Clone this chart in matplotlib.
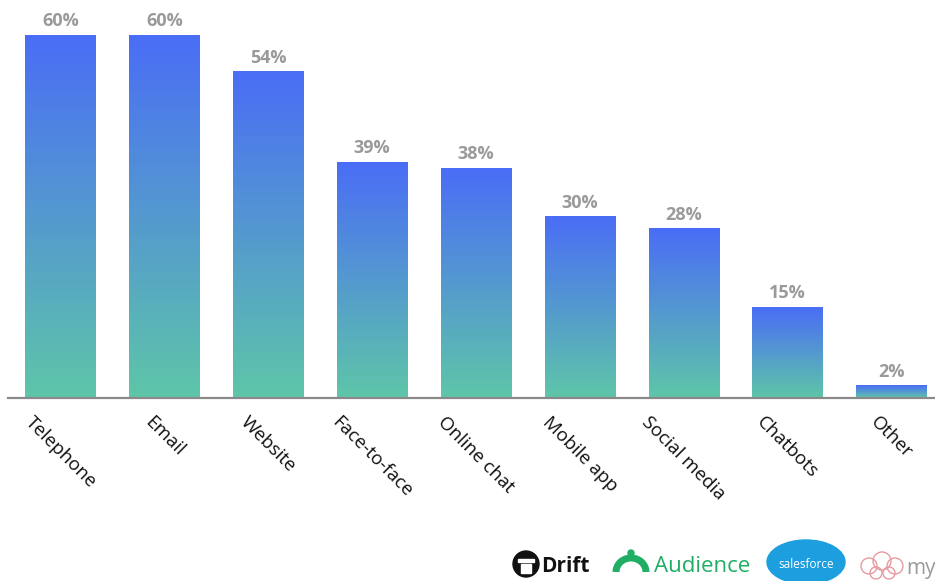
import numpy as np
import matplotlib
matplotlib.use("Agg")
import matplotlib.pyplot as plt
from matplotlib.colors import LinearSegmentedColormap
from matplotlib.patches import Ellipse, Arc, Rectangle

categories = ["Telephone", "Email", "Website", "Face-to-face", "Online chat",
              "Mobile app", "Social media", "Chatbots", "Other"]
values = [60, 60, 54, 39, 38, 30, 28, 15, 2]
value_labels = ["60%", "60%", "54%", "39%", "38%", "30%", "28%", "15%", "2%"]

TOP_BLUE = "#4a6df6"
BOTTOM_GREEN = "#5ec6a8"
grad_cmap = LinearSegmentedColormap.from_list("bar_grad", [BOTTOM_GREEN, TOP_BLUE])

W, H = 935, 581
fig = plt.figure(figsize=(W / 100, H / 100), dpi=100)
ax = fig.add_axes([8 / W, 1 - 398 / H, 927 / W, 398 / H])


def fx(px):
    return px / W


def fy(py):
    return 1 - py / H


def round_mark(cx, cy, r, **kw):
    # circle given in pixels, kept round in figure coordinates
    fig.patches.append(Ellipse((fx(cx), fy(cy)), 2 * r / W, 2 * r / H,
                               transform=fig.transFigure, **kw))


x = np.arange(len(categories))
bars = ax.bar(x, values, width=0.675, color="none", edgecolor="none", zorder=2)

# vertical gradient inside each bar, blue at top fading to green at the base
grad = np.linspace(0, 1, 256).reshape(-1, 1)
for b in bars:
    x0, w, h = b.get_x(), b.get_width(), b.get_height()
    ax.imshow(grad, cmap=grad_cmap, origin="lower", aspect="auto",
              extent=(x0, x0 + w, 0, h), zorder=2, interpolation="bilinear")

for b, lab in zip(bars, value_labels):
    ax.annotate(lab, (b.get_x() + b.get_width() / 2, b.get_height()),
                xytext=(0, 3.5), textcoords="offset points",
                ha="center", va="bottom", fontsize=13, fontweight="bold",
                color="#9a9a9a", family="Open Sans")

ax.set_xlim(-0.506, 8.42)
ax.set_ylim(0, 65.8)

for side in ("top", "right", "left"):
    ax.spines[side].set_visible(False)
ax.spines["bottom"].set_color("#8a8a8a")
ax.spines["bottom"].set_linewidth(1.6)
ax.set_yticks([])
ax.set_xticks(x)
ax.set_xticklabels(categories, rotation=-45, ha="center", va="top",
                   fontsize=13.5, family="Open Sans", color="#111111")
ax.tick_params(axis="x", length=0, pad=11)

# partner logos along the bottom edge
# Drift: dark roundel with a white house mark
round_mark(526, 564, 13, color="#111111")
fig.patches.append(Rectangle((fx(521), fy(573)), 10 / W, 9 / H,
                             transform=fig.transFigure, color="white"))
fig.patches.append(Rectangle((fx(518), fy(562)), 16 / W, 3 / H,
                             transform=fig.transFigure, color="white"))
fig.text(fx(541), fy(577), "Drift", fontsize=15, fontweight="bold",
         color="#111111", family="Open Sans", va="bottom")
# Audience: green arch mark with word
fig.patches.append(Arc((fx(631), fy(572)), 30 / W, 28 / H, theta1=0, theta2=180,
                       transform=fig.transFigure, color="#1fae63", linewidth=5))
round_mark(631, 553, 3, color="#1fae63")
fig.text(fx(654), fy(577), "Audience", fontsize=16,
         color="#1fae63", family="Open Sans", va="bottom")
# Salesforce cloud
fig.patches.append(Ellipse((fx(806), fy(562)), 78 / W, 44 / H,
                           transform=fig.transFigure, color="#1d9ede"))
fig.text(fx(806), fy(564), "salesforce", fontsize=8.5,
         color="white", ha="center", va="center", family="Open Sans")
# brain mark
for cx, cy, r in [(869, 566, 8), (882, 561, 9), (895, 566, 8), (876, 573, 6), (889, 573, 6)]:
    round_mark(cx, cy, r, fill=False, edgecolor="#e79aa0", linewidth=1)
fig.text(fx(906), fy(579), "my", fontsize=15, color="#9a9a9a",
         family="Open Sans", va="bottom")

fig.savefig("out.png", dpi=100)
